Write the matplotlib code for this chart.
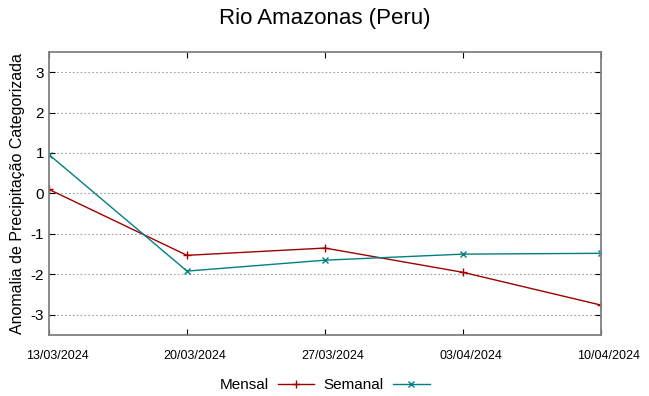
import matplotlib
matplotlib.use("Agg")
import matplotlib.pyplot as plt
import matplotlib.transforms as mtransforms
import pandas as pd

plt.rcParams['font.family'] = ['Liberation Sans', 'DejaVu Sans']

datas = ['13/03/2024', '20/03/2024', '27/03/2024', '03/04/2024', '10/04/2024']
mensal = [0.1, -1.53, -1.35, -1.95, -2.76]
semanal = [0.96, -1.92, -1.65, -1.5, -1.48]
yticks = [-3, -2, -1, 0, 1, 2, 3]

x = pd.to_datetime(datas, format='%d/%m/%Y')

fig = plt.figure(figsize=(6.49, 3.96), dpi=100)
ax = fig.add_axes([0.0755, 0.154, 0.8505, 0.715])

ax.plot(x, mensal, color='#a00000', lw=1, marker='+', ms=6, mew=1, label='Mensal')
ax.plot(x, semanal, color='#008080', lw=1, marker='x', ms=5, mew=1, label='Semanal')

ax.set_xlim(x[0], x[-1])
ax.set_ylim(-3.5, 3.5)
ax.set_yticks(yticks)
ax.set_yticklabels([str(v) for v in yticks], fontsize=11)
ax.set_xticks(x)
ax.set_xticklabels(datas, fontsize=9)
ax.tick_params(direction='in', top=True, right=True, length=4, color='black')
ax.tick_params(axis='x', pad=11)
# rótulos do eixo x levemente deslocados para a direita, como no original
desloc = mtransforms.ScaledTranslation(8 / 100, 0, fig.dpi_scale_trans)
for lbl in ax.get_xticklabels():
    lbl.set_transform(lbl.get_transform() + desloc)
ax.grid(axis='y', color='#a0a0a0', ls=(0, (1.5, 2)), lw=0.8)
for s in ax.spines.values():
    s.set_color('#808080')
    s.set_linewidth(1.3)

ax.set_ylabel('Anomalia de Precipitação Categorizada', fontsize=11.5, labelpad=4)
fig.suptitle('Rio Amazonas (Peru)', fontsize=16, y=0.98)

fig.legend(loc='lower center', bbox_to_anchor=(0.5, -0.025), ncol=2, frameon=False,
           markerfirst=False, fontsize=11, handlelength=2.4, columnspacing=0.6,
           handletextpad=0.6)

fig.savefig('out.png', dpi=100)
